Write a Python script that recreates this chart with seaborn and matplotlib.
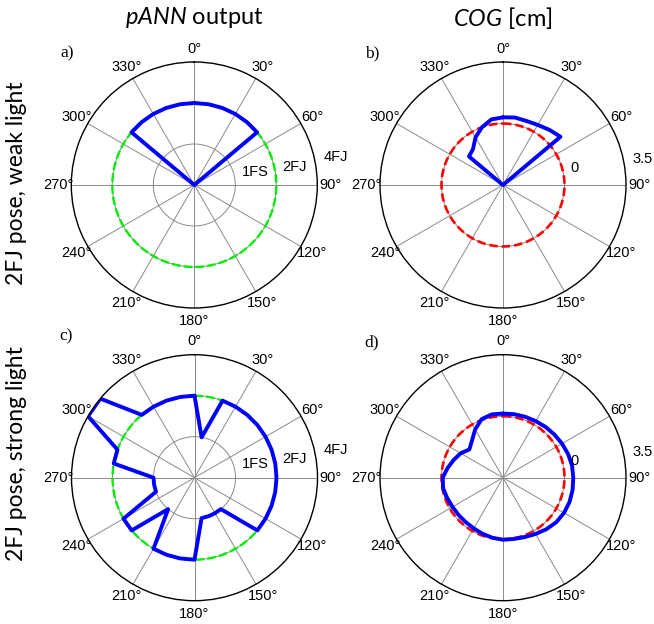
import numpy as np
import pandas as pd
import matplotlib
matplotlib.use("Agg")
import matplotlib.pyplot as plt
import seaborn as sns

# ---------------- data ----------------
angles_deg = list(range(0, 360, 10))

# pANN output (levels: 1 = 1FS, 2 = 2FJ, 3 = 4FJ)
pann_weak = [2, 2, 2, 2, 2, 2,
             0, 0, 0, 0, 0, 0, 0, 0, 0, 0, 0, 0, 0, 0, 0, 0, 0, 0, 0,
             0, 0, 0, 0, 0, 0,
             2, 2, 2, 2, 2]
pann_strong = [2, 1, 2, 2, 2, 2, 2, 2, 2, 2, 2, 2, 2, 2, 1, 1, 1, 1,
               2, 2, 2, 2, 1, 2, 2, 1, 1, 1, 2, 2, 3, 3, 2, 2, 2, 2]
pann_reference = 2  # 2FJ pose
pann_ticks = [1, 2, 3]
pann_ticklabels = ["1FS", "2FJ", "4FJ"]

# COG [cm]
cog_weak = [0.35, 0.40, 0.38, 0.45, 0.60, 0.77,
            -3.5, -3.5, -3.5, -3.5, -3.5, -3.5, -3.5, -3.5, -3.5, -3.5, -3.5,
            -3.5, -3.5, -3.5, -3.5, -3.5, -3.5, -3.5, -3.5, -3.5, -3.5, -3.5,
            -3.5, -3.5, -3.5,
            -0.97, -0.84, -0.37, 0.0, 0.29]
cog_strong = [0.15, 0.17, 0.19, 0.22, 0.27, 0.32, 0.38, 0.44, 0.49, 0.50,
              0.52, 0.53, 0.51, 0.45, 0.33, 0.20, 0.10, 0.04, 0.03, -0.03,
              -0.10, -0.17, -0.20, -0.20, -0.18, -0.12, -0.04, -0.07, -0.30,
              -0.52, -0.72, -1.00, -0.75, -0.33, 0.05, 0.16]
cog_reference = 0.0
cog_limits = [-3.5, 3.5]
cog_ticklabels = ["0", "3.5"]

theta_ticks = list(range(0, 360, 30))
theta_ticklabels = [f"{a}°" for a in theta_ticks]

col_titles = ["pANN output", "COG [cm]"]
row_titles = ["2FJ pose, weak light", "2FJ pose, strong light"]
panel_letters = ["a)", "b)", "c)", "d)"]

# ---------------- style ----------------
sns.set_theme(style="white")
plt.rcParams["font.family"] = ["Liberation Sans", "DejaVu Sans"]
plt.rcParams["mathtext.fontset"] = "custom"
plt.rcParams["mathtext.it"] = "Lato:italic"
plt.rcParams["mathtext.rm"] = "Lato"

W, H = 654, 624
R = 123
fig = plt.figure(figsize=(W / 100, H / 100), dpi=100)
fig.patch.set_facecolor("white")

centers = [(194.3, 185), (503, 185), (194.5, 477.7), (503, 477.7)]
axes = []
for cx, cy in centers:
    ax = fig.add_axes([(cx - R) / W, 1 - (cy + R) / H, 2 * R / W, 2 * R / H],
                      projection="polar")
    axes.append(ax)

def closed_frame(values):
    th = np.deg2rad(angles_deg + [angles_deg[0]])
    rr = list(values) + [values[0]]
    return pd.DataFrame({"theta": th, "r": rr})

def ref_frame(level):
    th = np.deg2rad(np.arange(0, 361, 2))
    return pd.DataFrame({"theta": th, "r": np.full(th.shape, level, dtype=float)})

def text_at(ax, text, frac, ang_deg, size=10.5):
    a = np.deg2rad(ang_deg)
    ax.text(0.5 + 0.5 * frac * np.sin(a), 0.5 + 0.5 * frac * np.cos(a), text,
            transform=ax.transAxes, ha="center", va="center", fontsize=size,
            color="black", clip_on=False)

def style_polar(ax):
    ax.set_theta_zero_location("N")
    ax.set_theta_direction(-1)
    ax.set_facecolor("white")
    ax.set_axisbelow(True)
    ax.grid(True, color="#8a8a8a", lw=0.7)
    ax.set_thetagrids(theta_ticks, labels=[""] * len(theta_ticks))
    ax.spines["polar"].set_color("black")
    ax.spines["polar"].set_linewidth(1.0)
    for t, lab in zip(theta_ticks, theta_ticklabels):
        text_at(ax, lab, 1.108, t)

# pANN panels
for ax, vals in [(axes[0], pann_weak), (axes[2], pann_strong)]:
    style_polar(ax)
    sns.lineplot(data=ref_frame(pann_reference), x="theta", y="r", ax=ax,
                 sort=False, estimator=None, color="#00ee00", lw=1.7,
                 dashes=False, linestyle=(0, (3.6, 1.4)))
    sns.lineplot(data=closed_frame(vals), x="theta", y="r", ax=ax,
                 sort=False, estimator=None, color="#0000ff", lw=2.8)
    ax.set_ylim(0, 3)
    ax.set_rgrids([1, 2], labels=["", ""])
    ax.set_xlabel("")
    ax.set_ylabel("")
    text_at(ax, pann_ticklabels[0], 0.504, 77.6)
    text_at(ax, pann_ticklabels[1], 0.827, 79.6)
    text_at(ax, pann_ticklabels[2], 1.174, 78.8)

# COG panels
for ax, vals in [(axes[1], cog_weak), (axes[3], cog_strong)]:
    style_polar(ax)
    sns.lineplot(data=ref_frame(cog_reference), x="theta", y="r", ax=ax,
                 sort=False, estimator=None, color="#ff0000", lw=1.9,
                 dashes=False, linestyle=(0, (3.2, 1.5)))
    sns.lineplot(data=closed_frame(vals), x="theta", y="r", ax=ax,
                 sort=False, estimator=None, color="#0000ff", lw=2.8)
    ax.set_ylim(*cog_limits)
    ax.set_rgrids([0.0], labels=[""])
    ax.set_xlabel("")
    ax.set_ylabel("")
    text_at(ax, cog_ticklabels[0], 0.60, 76.7)
    text_at(ax, cog_ticklabels[1], 1.158, 79.5)

# panel letters
letter_pos = [(67, 53), (372, 53), (66, 336), (372, 342)]
for (x, y), s in zip(letter_pos, panel_letters):
    fig.text(x / W, 1 - y / H, s, ha="center", va="center", fontsize=12.5,
             family="Liberation Serif", color="black")

# column titles
fig.text(194.5 / W, 1 - 18 / H, r"$\mathit{pANN}$ output", ha="center",
         va="center", fontsize=17, family="Lato", color="black")
fig.text(502.5 / W, 1 - 18 / H, r"$\mathit{COG}$ [cm]", ha="center",
         va="center", fontsize=17, family="Lato", color="black")

# row titles
fig.text(17 / W, 1 - 183 / H, row_titles[0], rotation=90, ha="center",
         va="center", fontsize=16.5, family="Lato", color="black")
fig.text(17 / W, 1 - 454 / H, row_titles[1], rotation=90, ha="center",
         va="center", fontsize=16.5, family="Lato", color="black")

fig.savefig("out.png", dpi=100, facecolor="white")
